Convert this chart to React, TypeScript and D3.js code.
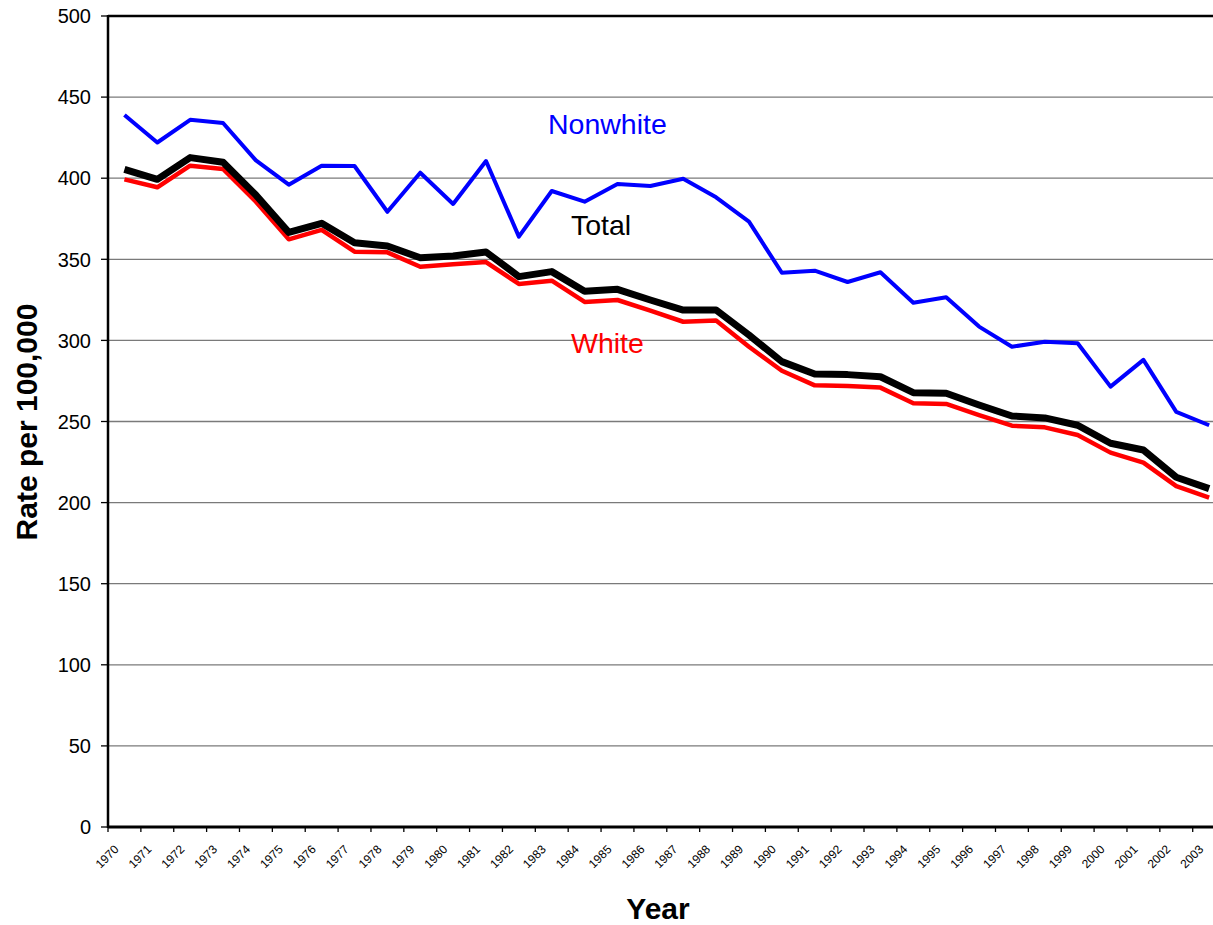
import React from "react";
import * as d3 from "d3";

const years = [
  "1970","1971","1972","1973","1974","1975","1976","1977","1978","1979",
  "1980","1981","1982","1983","1984","1985","1986","1987","1988","1989",
  "1990","1991","1992","1993","1994","1995","1996","1997","1998","1999",
  "2000","2001","2002","2003",
];

const nonwhite = [
  439, 422, 436, 434, 411, 396, 407.7, 407.5, 379.3, 403.4,
  384.1, 410.6, 364, 392.1, 385.5, 396.4, 395.2, 399.7, 388.2, 373.2,
  341.7, 343, 336, 342, 323.2, 326.6, 308.5, 296.1, 299.2, 298.2,
  271.5, 288, 255.9, 247.7,
];

const total = [
  405.5, 399.3, 412.7, 409.8, 389.6, 366.6, 372.2, 360.2, 358.2, 351,
  352, 354.5, 339.3, 342.4, 330.3, 331.5, 324.9, 318.7, 318.7, 303.3,
  286.9, 279.3, 278.9, 277.6, 267.8, 267.4, 260.2, 253.4, 252.2, 247.7,
  236.6, 232.4, 215.6, 208.6,
];

const white = [
  399.3, 394.4, 407.7, 405.7, 385.5, 362.3, 368.1, 354.7, 354.3, 345.4,
  347, 348.3, 334.8, 336.8, 323.7, 324.9, 318.3, 311.5, 312.2, 296.1,
  281.3, 272.3, 271.9, 270.9, 261.2, 260.8, 254, 247.4, 246.4, 241.7,
  230.8, 224.6, 210.2, 203,
];

const yTicks = [0, 50, 100, 150, 200, 250, 300, 350, 400, 450, 500];

const W = 1213;
const H = 925;
const left = 108;
const top = 16;
const bottom = 827;
const bandW = 32.87;
const right = left + bandW * years.length;

export default function App() {
  const x = d3.scaleBand<string>().domain(years).range([left, right]).padding(0);
  const y = d3.scaleLinear().domain([0, 500]).range([bottom, top]);
  const cx = (yr: string) => (x(yr) as number) + x.bandwidth() / 2;

  const line = d3
    .line<number>()
    .x((_, i) => cx(years[i]))
    .y((d) => y(d));

  const font = "Arial, 'Liberation Sans', Helvetica, sans-serif";

  return (
    <svg
      width={W}
      height={H}
      style={{ position: "absolute", left: 0, top: 0, background: "#fff" }}
      fontFamily={font}
    >
      <rect x={0} y={0} width={W} height={H} fill="#fff" />
      {/* gridlines */}
      {yTicks.filter((t) => t !== 0 && t !== 500).map((t) => (
        <line key={"g" + t} x1={left} x2={right} y1={y(t)} y2={y(t)} stroke="#7a7a7a" strokeWidth={1.3} />
      ))}
      {/* top border */}
      <line x1={left} x2={right} y1={y(500)} y2={y(500)} stroke="#000" strokeWidth={2.5} />
      {/* y ticks and labels */}
      {yTicks.map((t) => (
        <g key={"t" + t}>
          <line x1={101} x2={left} y1={y(t)} y2={y(t)} stroke="#000" strokeWidth={1.3} />
          <text x={91} y={y(t)} dy="0.36em" textAnchor="end" fontSize={20} fill="#000">
            {t}
          </text>
        </g>
      ))}
      {/* x ticks */}
      {years.map((yr) => (
        <line key={"xt" + yr} x1={x(yr) as number} x2={x(yr) as number} y1={bottom} y2={bottom + 5} stroke="#000" strokeWidth={1.3} />
      ))}
      {years.map((yr) => (
        <text
          key={"xl" + yr}
          transform={`translate(${cx(yr) - 5},${bottom + 23}) rotate(-45)`}
          textAnchor="end"
          fontSize={12}
          fill="#000"
        >
          {yr}
        </text>
      ))}
      {/* axes */}
      <line x1={left} x2={left} y1={top - 1} y2={bottom + 1} stroke="#000" strokeWidth={2.5} />
      <line x1={left} x2={right} y1={bottom} y2={bottom} stroke="#000" strokeWidth={3} />
      {/* series */}
      <path d={line(white) || ""} fill="none" stroke="#ff0000" strokeWidth={4.5} strokeLinejoin="round" />
      <path d={line(total) || ""} fill="none" stroke="#000000" strokeWidth={7} strokeLinejoin="round" />
      <path d={line(nonwhite) || ""} fill="none" stroke="#0000ff" strokeWidth={4} strokeLinejoin="round" />
      {/* series labels */}
      <text x={548} y={134} fontSize={28.5} fill="#0000ff">Nonwhite</text>
      <text x={571} y={235} fontSize={28.5} fill="#000">Total</text>
      <text x={571} y={353} fontSize={28.5} fill="#ff0000">White</text>
      {/* axis titles */}
      <text transform={`translate(37,422) rotate(-90)`} textAnchor="middle" fontSize={30} fontWeight="bold" fill="#000">
        Rate per 100,000
      </text>
      <text x={658} y={919} textAnchor="middle" fontSize={30} fontWeight="bold" fill="#000">
        Year
      </text>
    </svg>
  );
}
